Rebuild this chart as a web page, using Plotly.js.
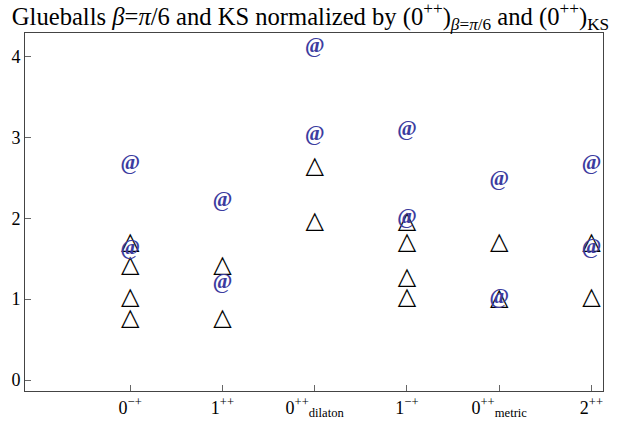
<!DOCTYPE html>
<html>
<head>
<meta charset="utf-8">
<script src="https://cdn.plot.ly/plotly-3.0.1.min.js"></script>
<style>html,body{margin:0;padding:0;background:#fff;}#chart{width:621px;height:423px;}</style>
</head>
<body>
<div id="chart"></div>
<script>
// category positions and tick labels
var categoryPositions = [1, 2, 3, 4, 5, 6];
var categoryLabels = ["0<sup>\u2212+</sup>", "1<sup>++</sup>", "0<sup>++</sup><sub>dilaton</sub>", "1<sup>\u2212+</sup>", "0<sup>++</sup><sub>metric</sub>", "2<sup>++</sup>"];

// KS glueballs (triangles)
var ksX = [1, 1, 1, 1, 2, 2, 3, 3, 4, 4, 4, 4, 5, 5, 6, 6];
var ksY = [1.69, 1.41, 1.02, 0.75, 1.41, 0.75, 2.63, 1.95, 1.95, 1.69, 1.26, 1.02, 1.69, 1.0, 1.69, 1.02];

// beta = pi/6 glueballs (@ markers)
var betaX = [1, 1, 2, 2, 3, 3, 4, 4, 5, 5, 6, 6];
var betaY = [2.67, 1.62, 2.21, 1.20, 4.12, 3.03, 3.09, 2.0, 2.48, 1.02, 2.67, 1.63];

var yTicks = [0, 1, 2, 3, 4];

var SERIF = 'Liberation Serif, Times New Roman, Times, serif';

var traces = [
  {
    x: ksX, y: ksY, mode: 'text', type: 'scatter',
    text: ksX.map(function(){return '\u25B3';}),
    textposition: 'middle center',
    textfont: {family: 'DejaVu Sans', size: 24, color: '#000'},
    hoverinfo: 'none', showlegend: false, cliponaxis: false
  },
  {
    x: betaX, y: betaY, mode: 'text', type: 'scatter',
    text: betaX.map(function(){return '@';}),
    textposition: 'middle center',
    textfont: {family: SERIF, size: 21, color: '#3c3ca0', weight: 'bold'},
    hoverinfo: 'none', showlegend: false, cliponaxis: false
  }
];

var layout = {
  width: 621, height: 423,
  margin: {l: 25, r: 18, t: 33, b: 32, pad: 0},
  paper_bgcolor: '#fff', plot_bgcolor: '#fff',
  font: {family: SERIF, color: '#000'},
  title: {
    text: 'Glueballs <i>\u03B2</i>=<i>\u03C0</i>/6 and KS normalized by (0<sup>++</sup>)<sub><i>\u03B2</i>=<i>\u03C0</i>/6</sub> and (0<sup>++</sup>)<sub>KS</sub>',
    font: {family: SERIF, size: 24.6, color: '#000'},
    x: 0.5, xref: 'container', xanchor: 'center',
    y: 0.962, yref: 'container', yanchor: 'middle'
  },
  xaxis: {
    range: [-0.14, 6.125],
    tickmode: 'array', tickvals: categoryPositions, ticktext: categoryLabels,
    ticks: 'inside', ticklen: 6, tickcolor: '#666', tickwidth: 1,
    showline: true, linecolor: '#444', linewidth: 1, mirror: true,
    showgrid: false, zeroline: false,
    tickfont: {family: SERIF, size: 18, color: '#000'}
  },
  yaxis: {
    range: [-0.136, 4.29],
    tickmode: 'array', tickvals: yTicks,
    ticks: 'inside', ticklen: 6, tickcolor: '#666', tickwidth: 1,
    showline: true, linecolor: '#444', linewidth: 1, mirror: true,
    showgrid: false, zeroline: false,
    tickfont: {family: SERIF, size: 18, color: '#000'}
  }
};

Plotly.newPlot('chart', traces, layout, {staticPlot: true, displayModeBar: false});
</script>
</body>
</html>
